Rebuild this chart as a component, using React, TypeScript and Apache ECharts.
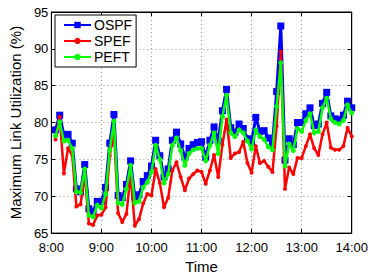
import React, { useEffect, useRef } from "react";
import * as echarts from "echarts";

// sample times in minutes after midnight (8:05 .. 14:00, every 5 minutes)
const times: number[] = Array.from({ length: 72 }, (_, i) => 485 + 5 * i);

const ospf = [
  79.0, 81.0, 78.3, 78.4, 77.2, 71.0, 70.6, 74.3, 68.3, 67.9, 69.3, 69.3,
  71.2, 77.2, 81.1, 70.1, 69.8, 71.6, 74.8, 69.9, 70.2, 72.0, 72.8, 74.1,
  77.6, 75.5, 72.6, 73.7, 77.6, 78.7, 77.1, 75.3, 76.5, 77.0, 77.3, 77.4,
  75.3, 77.6, 79.4, 77.5, 81.6, 84.5, 79.3, 78.7, 79.8, 79.2, 77.8, 77.4,
  80.7, 78.8, 78.9, 77.9, 77.0, 84.2, 93.1, 74.9, 77.8, 77.0, 80.0, 80.0,
  81.2, 82.0, 79.6, 79.8, 82.6, 84.1, 80.9, 80.5, 80.4, 81.0, 82.9, 82.0,
];

const spef = [
  77.7, 80.8, 73.1, 76.5, 75.6, 68.6, 68.9, 73.0, 66.3, 66.1, 67.4, 67.5,
  68.5, 75.5, 79.0, 67.7, 66.5, 67.6, 73.0, 66.0, 66.9, 69.0, 70.3, 70.1,
  73.7, 71.8, 68.5, 69.8, 73.5, 74.6, 72.6, 70.8, 72.4, 73.0, 73.5, 73.3,
  71.7, 73.5, 75.6, 72.6, 77.0, 80.4, 75.2, 75.8, 76.0, 77.4, 74.5, 73.2,
  76.8, 74.5, 74.8, 74.0, 73.3, 79.5, 89.6, 71.0, 73.9, 73.0, 75.2, 75.2,
  76.8, 78.4, 76.5, 75.6, 78.4, 80.0, 76.6, 76.3, 76.3, 76.8, 79.3, 78.1,
];

const peft = [
  78.2, 80.1, 77.5, 77.6, 76.5, 70.6, 70.5, 73.7, 67.4, 67.2, 68.8, 68.4,
  70.3, 76.3, 80.2, 69.1, 68.9, 71.0, 74.2, 69.1, 69.3, 71.2, 71.9, 73.3,
  76.9, 75.0, 71.8, 73.0, 76.9, 77.9, 76.2, 74.2, 75.8, 76.3, 76.5, 76.5,
  74.8, 76.9, 78.6, 75.8, 80.8, 83.7, 78.6, 78.1, 79.0, 78.6, 77.5, 76.4,
  79.0, 78.1, 77.7, 76.7, 76.3, 82.2, 88.1, 74.1, 77.1, 76.2, 79.2, 78.8,
  80.3, 81.2, 78.6, 78.8, 82.0, 83.3, 80.5, 80.0, 79.8, 80.3, 82.4, 81.3,
];

const seriesNames = ["OSPF", "SPEF", "PEFT"];
const FONT = "'Liberation Sans', Arial, Helvetica, sans-serif";

export default function App() {
  const ref = useRef<HTMLDivElement>(null);

  useEffect(() => {
    if (!ref.current) return;
    const chart = echarts.init(ref.current, null, { renderer: "svg" });
    const pair = (arr: number[]) => arr.map((v, i) => [times[i], v]);
    const gridLine = { show: true, lineStyle: { color: "#9a9a9a", type: [1, 3] as any, width: 1 } };
    chart.setOption({
      animation: false,
      backgroundColor: "#ffffff",
      textStyle: { fontFamily: FONT },
      grid: {
        left: 50,
        right: 17,
        top: 12,
        bottom: 31,
        show: true,
        borderColor: "#000",
        borderWidth: 1,
        backgroundColor: "#fff",
      },
      legend: {
        data: seriesNames,
        orient: "vertical",
        left: 55,
        top: 15,
        padding: [3, 4, 3, 8],
        itemWidth: 27,
        itemHeight: 8,
        itemGap: 2,
        borderColor: "#000",
        borderWidth: 1,
        backgroundColor: "#fff",
        textStyle: { fontFamily: FONT, fontSize: 14, color: "#000", padding: [0, 0, 0, -2] },
      },
      xAxis: [
        {
          type: "value",
          min: 480,
          max: 840,
          interval: 60,
          name: "Time",
          nameLocation: "middle",
          nameGap: 17,
          nameTextStyle: { fontFamily: FONT, fontSize: 15, color: "#000" },
          axisLine: { show: true, lineStyle: { color: "#000", width: 1 } },
          axisTick: { show: true, inside: true, length: 4, lineStyle: { color: "#000" } },
          axisLabel: {
            margin: 8,
            fontFamily: FONT,
            fontSize: 13,
            color: "#000",
            formatter: (v: number) => `${Math.floor(v / 60)}:${String(v % 60).padStart(2, "0")}`,
          },
          splitLine: gridLine,
        },
        {
          type: "value",
          position: "top",
          min: 480,
          max: 840,
          interval: 60,
          axisLine: { show: true, lineStyle: { color: "#000", width: 1 } },
          axisTick: { show: true, inside: true, length: 4, lineStyle: { color: "#000" } },
          axisLabel: { show: false },
          splitLine: { show: false },
        },
      ],
      yAxis: [
        {
          type: "value",
          min: 65,
          max: 95,
          interval: 5,
          name: "Maximum Link Utilization (%)",
          nameLocation: "middle",
          nameGap: 21,
          nameTextStyle: { fontFamily: FONT, fontSize: 15, color: "#000" },
          axisLine: { show: true, lineStyle: { color: "#000", width: 1 } },
          axisTick: { show: true, inside: true, length: 4, lineStyle: { color: "#000" } },
          axisLabel: { margin: 3, fontFamily: FONT, fontSize: 13, color: "#000" },
          splitLine: gridLine,
        },
        {
          type: "value",
          position: "right",
          min: 65,
          max: 95,
          interval: 5,
          axisLine: { show: true, lineStyle: { color: "#000", width: 1 } },
          axisTick: { show: true, inside: true, length: 4, lineStyle: { color: "#000" } },
          axisLabel: { show: false },
          splitLine: { show: false },
        },
      ],
      series: [
        {
          name: "OSPF",
          type: "line",
          data: pair(ospf),
          symbol: "rect",
          symbolSize: 7,
          lineStyle: { color: "#0000ff", width: 3 },
          itemStyle: { color: "#0000ff" },
          z: 2,
        },
        {
          name: "SPEF",
          type: "line",
          data: pair(spef),
          symbol: "circle",
          symbolSize: 4,
          lineStyle: { color: "#ff0000", width: 2.5 },
          itemStyle: { color: "#ff0000" },
          z: 3,
        },
        {
          name: "PEFT",
          type: "line",
          data: pair(peft),
          symbol: "circle",
          symbolSize: 5,
          lineStyle: { color: "#00ff00", width: 2.5 },
          itemStyle: { color: "#00ff00" },
          z: 4,
        },
      ],
    });
    return () => chart.dispose();
  }, []);

  return (
    <div
      ref={ref}
      style={{ position: "fixed", left: 0, top: 0, width: 371, height: 279, background: "#fff" }}
    />
  );
}
